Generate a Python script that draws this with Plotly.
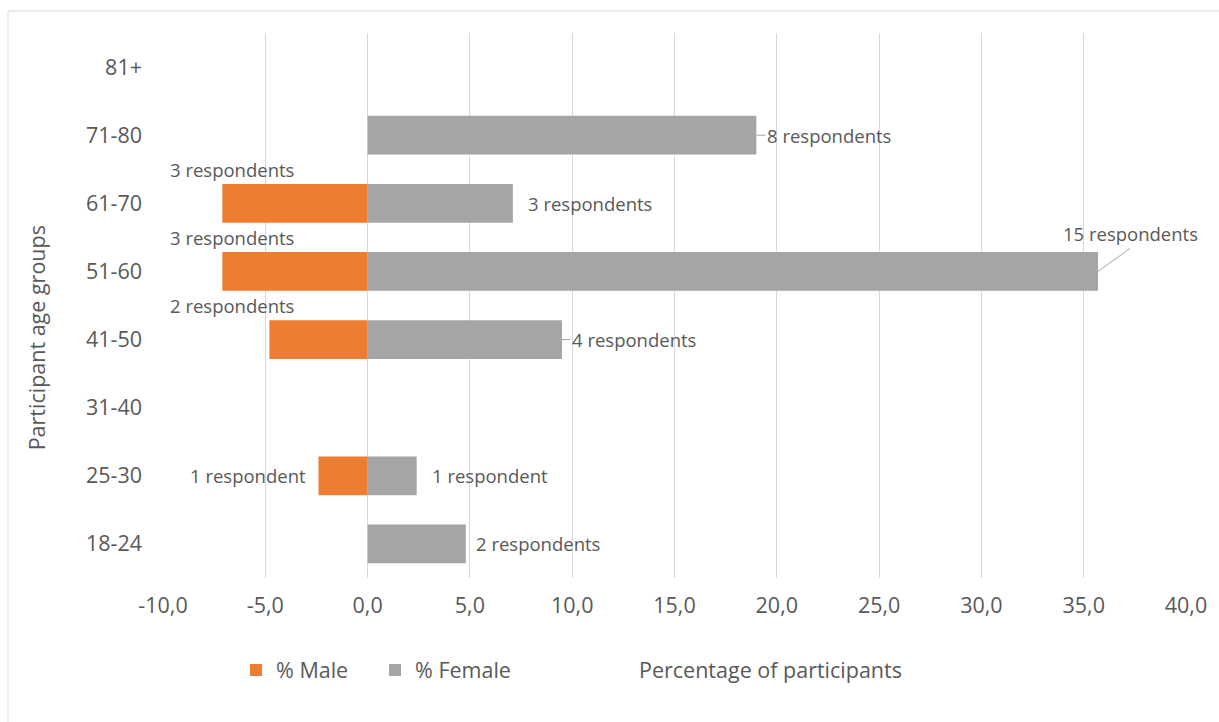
import plotly.graph_objects as go

# ---- data ----
age_groups = ["18-24", "25-30", "31-40", "41-50", "51-60", "61-70", "71-80", "81+"]
male_pct = [0, 2.4, 0, 4.8, 7.1, 7.1, 0, 0]
female_pct = [4.8, 2.4, 0, 9.5, 35.7, 7.1, 19.0, 0]
male_counts = [0, 1, 0, 2, 3, 3, 0, 0]
female_counts = [2, 1, 0, 4, 15, 3, 8, 0]
x_tick_vals = [-10, -5, 0, 5, 10, 15, 20, 25, 30, 35, 40]
x_tick_text = ["-10,0", "-5,0", "0,0", "5,0", "10,0", "15,0", "20,0", "25,0", "30,0", "35,0", "40,0"]

# ---- styles ----
ORANGE = "#ED7D31"
GRAY = "#A5A5A5"
TXT = "#595959"
GRID = "#D9D9D9"
FONT = "Open Sans"

def label(n):
    return f"{n} respondent" if n == 1 else f"{n} respondents"

fig = go.Figure()
fig.add_trace(go.Bar(
    y=age_groups, x=[-v if v else None for v in male_pct], orientation="h",
    name="% Male", marker=dict(color=ORANGE, line=dict(width=0)), hoverinfo="skip"))
fig.add_trace(go.Bar(
    y=age_groups, x=[v if v else None for v in female_pct], orientation="h",
    name="% Female", marker=dict(color=GRAY, line=dict(width=0)), hoverinfo="skip"))

annotations = []
lab_font = dict(family=FONT, size=18.5, color=TXT)

# male labels placement style per category
male_style = {
    "61-70": "above", "51-60": "above", "41-50": "above", "25-30": "left",
}
for cat, pct, n in zip(age_groups, male_pct, male_counts):
    if not n:
        continue
    st = male_style.get(cat, "left")
    if st == "above":
        annotations.append(dict(x=-10, y=cat, xref="x", yref="y", text=label(n),
                                showarrow=False, xanchor="left", yanchor="middle",
                                xshift=5, yshift=34, font=lab_font))
    else:
        annotations.append(dict(x=-pct, y=cat, xref="x", yref="y", text=label(n),
                                showarrow=False, xanchor="right", yanchor="middle",
                                xshift=-11, font=lab_font))

# female labels placement style
female_style = {
    "71-80": ("line", 9, 0), "61-70": ("plain", 13, 0), "51-60": ("up", 32, -23),
    "41-50": ("line", 8, 0), "25-30": ("plain", 13, 0), "18-24": ("plain", 8, 0),
}
for cat, pct, n in zip(age_groups, female_pct, female_counts):
    if not n:
        continue
    kind, dx, dy = female_style[cat]
    if kind == "plain":
        annotations.append(dict(x=pct, y=cat, xref="x", yref="y", text=label(n),
                                showarrow=False, xanchor="left", yanchor="middle",
                                xshift=dx, font=lab_font))
    elif kind == "line":
        annotations.append(dict(x=pct, y=cat, xref="x", yref="y", text=label(n),
                                showarrow=True, arrowhead=0, arrowwidth=1, arrowcolor="#A6A6A6",
                                ax=dx, ay=dy, xanchor="left", yanchor="middle", font=lab_font))
    else:
        annotations.append(dict(x=pct, y=cat, xref="x", yref="y", text=label(n),
                                showarrow=True, arrowhead=0, arrowwidth=1, arrowcolor="#A6A6A6",
                                ax=dx, ay=dy, xanchor="center", yanchor="bottom", font=lab_font))

# axis titles
annotations.append(dict(x=0.594, y=-0.167, xref="paper", yref="paper",
                        text="Percentage of participants", showarrow=False,
                        xanchor="center", yanchor="middle",
                        font=dict(family=FONT, size=21.5, color=TXT)))
annotations.append(dict(x=-0.124, y=0.44, xref="paper", yref="paper",
                        text="Participant age groups", showarrow=False, textangle=-90,
                        xanchor="center", yanchor="middle",
                        font=dict(family=FONT, size=21.5, color=TXT)))

fig.update_layout(
    width=1219, height=722,
    margin=dict(l=163, r=33, t=33, b=144),
    paper_bgcolor="white", plot_bgcolor="white",
    barmode="relative", bargap=0.43,
    font=dict(family=FONT, color=TXT),
    xaxis=dict(range=[-10, 40], tickvals=x_tick_vals, ticktext=x_tick_text,
               showgrid=True, gridcolor=GRID, gridwidth=1, zeroline=True,
               zerolinecolor=GRID, zerolinewidth=1, showline=False, ticks="",
               tickfont=dict(family=FONT, size=21.5, color=TXT), ticklabelstandoff=12),
    yaxis=dict(type="category", categoryorder="array", categoryarray=age_groups,
               showgrid=False, showline=False, ticks="", zeroline=False,
               tickfont=dict(family=FONT, size=21.5, color=TXT), ticklabelstandoff=20),
    legend=dict(orientation="h", x=0.0714, y=-0.169, xanchor="left", yanchor="middle",
                font=dict(family=FONT, size=21.5, color=TXT), itemwidth=30,
                entrywidth=94, entrywidthmode="pixels",
                traceorder="normal", bgcolor="rgba(0,0,0,0)"),
    annotations=annotations,
    shapes=[dict(type="rect", xref="paper", yref="paper", x0=-0.1515, y0=-0.285,
                 x1=1.04, y1=1.0404, line=dict(color=GRID, width=1), fillcolor="rgba(0,0,0,0)",
                 layer="below")],
)

fig.write_html("out.html")
